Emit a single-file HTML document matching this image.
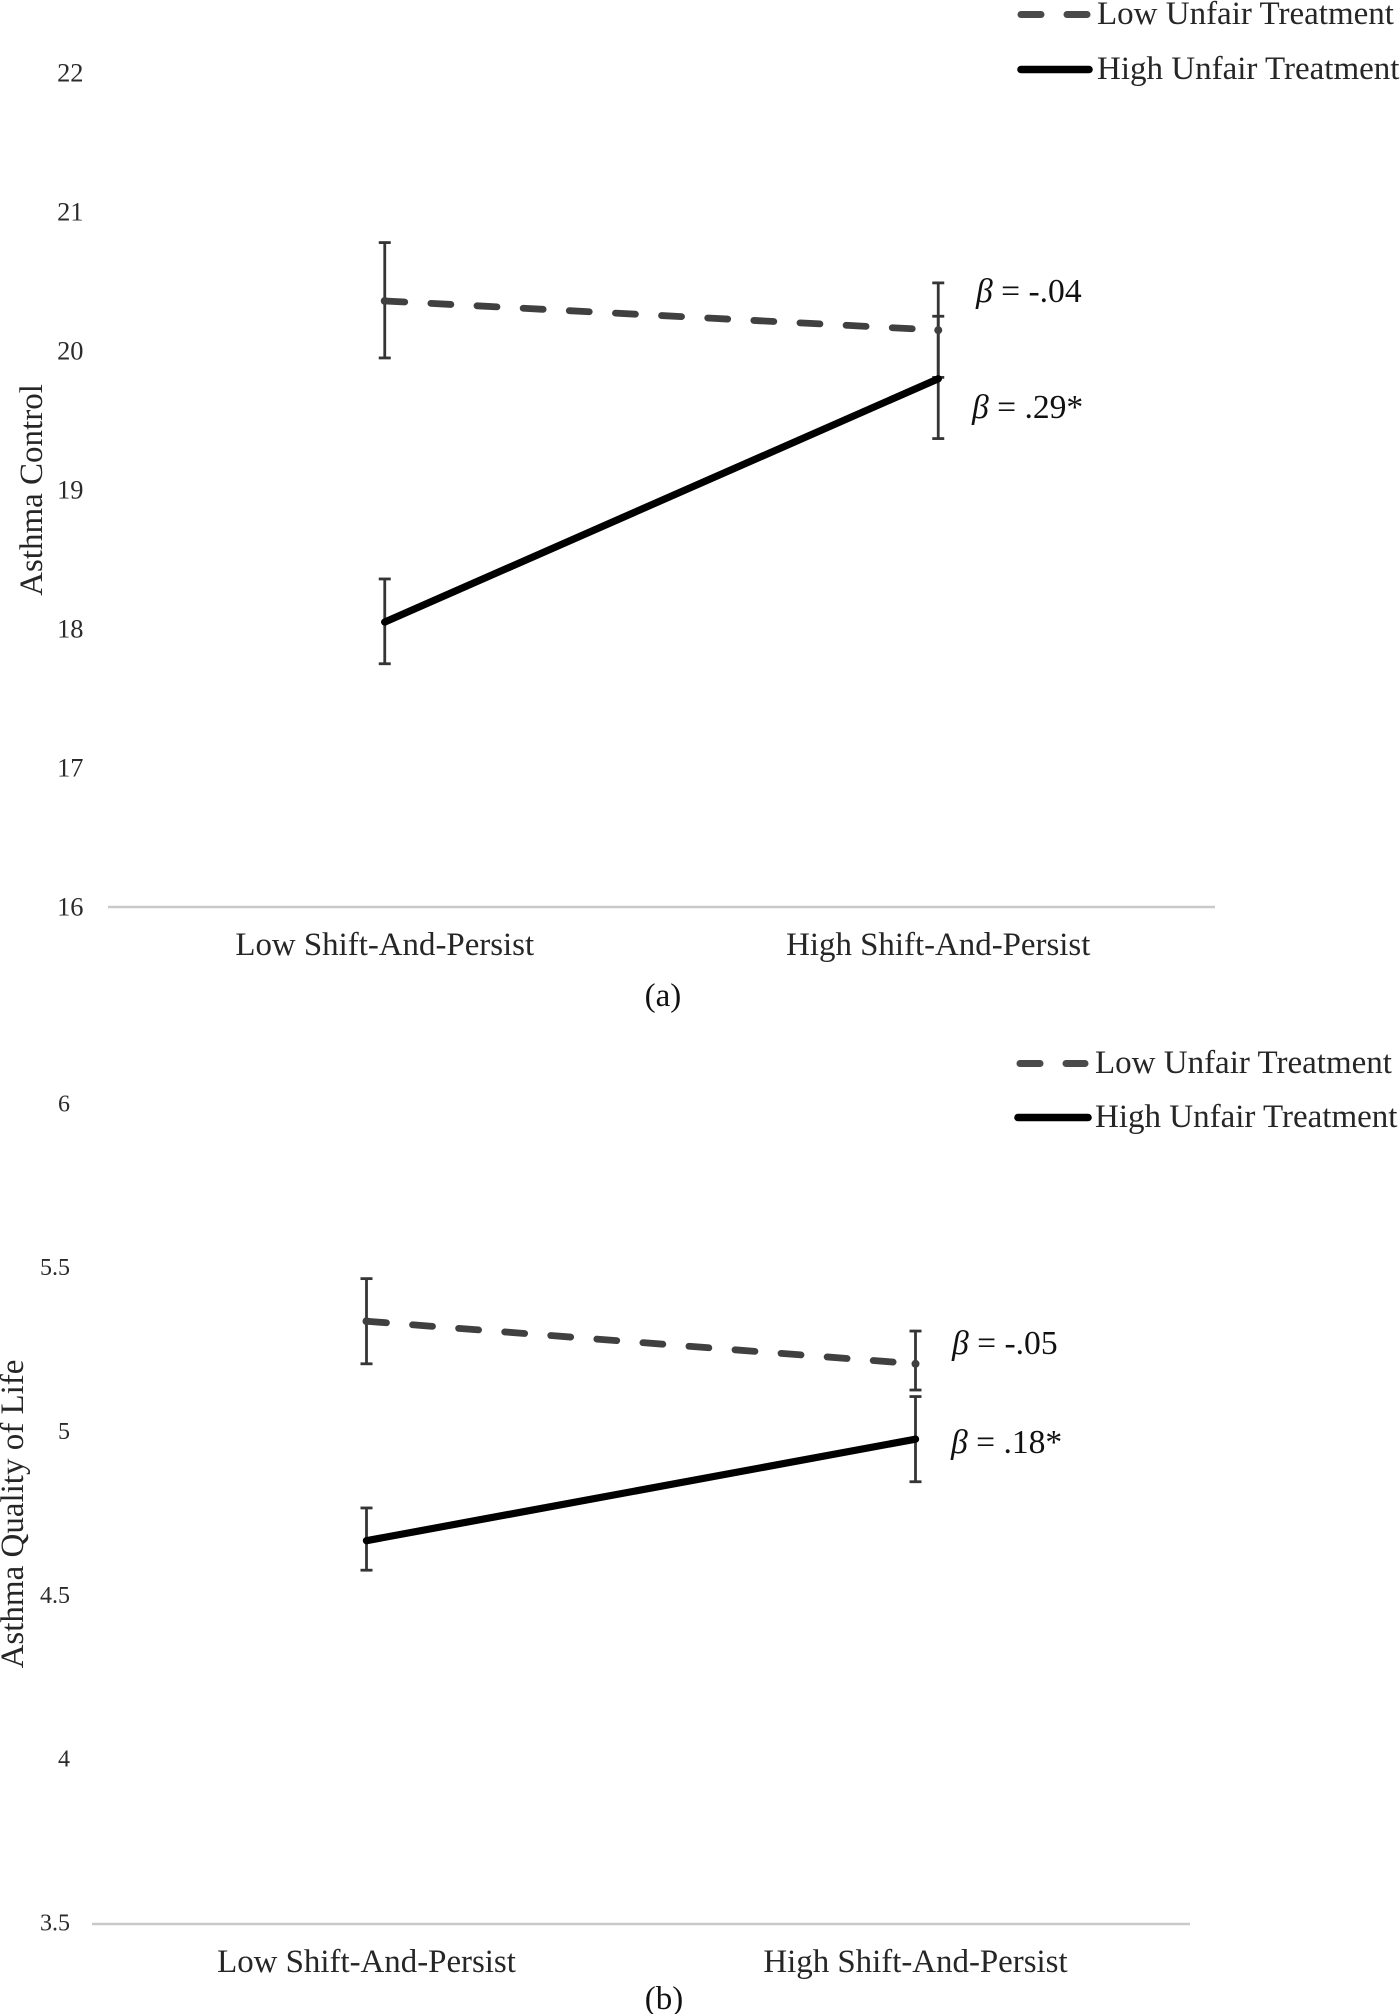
<!DOCTYPE html>
<html lang="en">
<head>
<meta charset="utf-8">
<title>Asthma Control and Quality of Life by Shift-And-Persist</title>
<style>
html,body{margin:0;padding:0;background:#fff;}
svg{display:block;font-family:"Liberation Serif","Times New Roman",serif;}
.tick{fill:#2b2b2b;text-anchor:end;}
.cat{fill:#262626;font-size:32.9px;text-anchor:middle;}
.leg{fill:#262626;font-size:33px;}
.ttl{fill:#262626;font-size:33px;text-anchor:middle;}
.beta{fill:#111;font-size:33.6px;}
.cap{fill:#111;font-size:33px;text-anchor:middle;}
</style>
</head>
<body>
<svg id="figure" xmlns="http://www.w3.org/2000/svg" width="1400" height="2014" viewBox="0 0 1400 2014">
  <rect x="0" y="0" width="1400" height="2014" fill="#fff"/>

  <g>
    <g>
      <line x1="1021" y1="14.5" x2="1041" y2="14.5" stroke="#4a4a4a" stroke-width="7" stroke-linecap="round"/>
      <line x1="1067" y1="14.5" x2="1087" y2="14.5" stroke="#4a4a4a" stroke-width="7" stroke-linecap="round"/>
      <text class="leg" x="1097" y="24">Low Unfair Treatment</text>
    </g>
    <g>
      <line x1="1021" y1="69.5" x2="1089" y2="69.5" stroke="#000" stroke-width="7.6" stroke-linecap="round"/>
      <text class="leg" x="1097" y="79">High Unfair Treatment</text>
    </g>
  </g>

  <g>
    <g>
      <line x1="1020" y1="1063.5" x2="1040" y2="1063.5" stroke="#4a4a4a" stroke-width="7" stroke-linecap="round"/>
      <line x1="1066" y1="1063.5" x2="1085" y2="1063.5" stroke="#4a4a4a" stroke-width="7" stroke-linecap="round"/>
      <text class="leg" x="1095" y="1073">Low Unfair Treatment</text>
    </g>
    <g>
      <line x1="1018" y1="1117.5" x2="1088" y2="1117.5" stroke="#000" stroke-width="7.6" stroke-linecap="round"/>
      <text class="leg" x="1095" y="1127">High Unfair Treatment</text>
    </g>
  </g>

  <text class="ttl" transform="translate(42,490) rotate(-90)">Asthma Control</text>
  <text class="ttl" transform="translate(23,1514) rotate(-90)">Asthma Quality of Life</text>

  <text class="beta" x="976" y="302"><tspan font-style="italic">β</tspan> = -.04</text>
  <text class="beta" x="972" y="418"><tspan font-style="italic">β</tspan> = .29*</text>
  <text class="beta" x="952" y="1354"><tspan font-style="italic">β</tspan> = -.05</text>
  <text class="beta" x="951" y="1453"><tspan font-style="italic">β</tspan> = .18*</text>

  <text class="cap" x="663" y="1006">(a)</text>
  <text class="cap" x="664" y="2009">(b)</text>

  <g id="plot-a"></g>
  <g id="plot-b"></g>
</svg>

<script>
const categories = ["Low Shift-And-Persist", "High Shift-And-Persist"];

const ticksA = [16, 17, 18, 19, 20, 21, 22];
const lowMeanA = [20.36, 20.15];
const lowTopA = [20.78, 20.49];
const lowBottomA = [19.95, 19.81];
const highMeanA = [18.05, 19.80];
const highTopA = [18.36, 20.25];
const highBottomA = [17.75, 19.37];

const ticksB = [3.5, 4, 4.5, 5, 5.5, 6];
const lowMeanB = [5.34, 5.21];
const lowTopB = [5.47, 5.31];
const lowBottomB = [5.21, 5.13];
const highMeanB = [4.67, 4.98];
const highTopB = [4.77, 5.11];
const highBottomB = [4.58, 4.85];

const SVGNS = "http://www.w3.org/2000/svg";

function make(tag, attrs, parent) {
  const node = document.createElementNS(SVGNS, tag);
  for (const key in attrs) node.setAttribute(key, attrs[key]);
  parent.appendChild(node);
  return node;
}

function drawPanel(root, suffix, frame, ticks, series) {
  const xOf = i => frame.left + (i + 0.5) * (frame.right - frame.left) / categories.length;
  const yOf = v => frame.base - (v - ticks[0]) * frame.perUnit;

  const axis = make("line", {x1: frame.left, x2: frame.right, y1: frame.base, y2: frame.base, stroke: "#c9c9c9", "stroke-width": 2.4}, root);
  
  

  ticks.forEach(t => {
    const label = make("text", {x: frame.tickX, y: yOf(t) + frame.tickSize * 0.33 + frame.tickNudge, "font-size": frame.tickSize, class: "tick"}, root);
    
    
    label.textContent = t;
  });

  categories.forEach((c, i) => {
    const label = make("text", {x: xOf(i), y: frame.catY, class: "cat"}, root);
    
    
    label.textContent = c;
  });

  series.forEach(s => {
    s.top.forEach((topValue, i) => {
      const x = xOf(i);
      const group = make("g", {stroke: "#353535", "stroke-width": 2.8, fill: "none"}, root);
      
      
      make("line", {x1: x, x2: x, y1: yOf(topValue), y2: yOf(s.bottom[i])}, group);
      make("line", {x1: x - 6, x2: x + 6, y1: yOf(topValue), y2: yOf(topValue)}, group);
      make("line", {x1: x - 6, x2: x + 6, y1: yOf(s.bottom[i]), y2: yOf(s.bottom[i])}, group);
    });
  });

  series.forEach(s => {
    const attrs = {x1: xOf(0), y1: yOf(s.mean[0]), x2: xOf(1), y2: yOf(s.mean[1]), stroke: s.color, "stroke-width": s.dash ? 6.8 : 7.2, "stroke-linecap": "round"};
    if (s.dash) attrs["stroke-dasharray"] = s.dash;
    const line = make("line", attrs, root);
    
    
    s.mean.forEach((v, i) => {
      const dot = make("circle", {cx: xOf(i), cy: yOf(v), r: s.dash ? 4 : 3.6, fill: s.color}, root);
      
      
    });
  });
}

drawPanel(document.getElementById("plot-a"), "a",
  {left: 108, right: 1215, base: 907, perUnit: 139, tickX: 83.5, tickSize: 26.4, tickNudge: 0, catY: 955},
  ticksA,
  [
    {name: "low-unfair", mean: lowMeanA, top: lowTopA, bottom: lowBottomA, color: "#404040", dash: "20 26.2"},
    {name: "high-unfair", mean: highMeanA, top: highTopA, bottom: highBottomA, color: "#000", dash: null}
  ]);

drawPanel(document.getElementById("plot-b"), "b",
  {left: 92, right: 1190, base: 1924, perUnit: 327.6, tickX: 70, tickSize: 24, tickNudge: -1.5, catY: 1972},
  ticksB,
  [
    {name: "low-unfair", mean: lowMeanB, top: lowTopB, bottom: lowBottomB, color: "#404040", dash: "20 26.2"},
    {name: "high-unfair", mean: highMeanB, top: highTopB, bottom: highBottomB, color: "#000", dash: null}
  ]);
</script>
</body>
</html>
